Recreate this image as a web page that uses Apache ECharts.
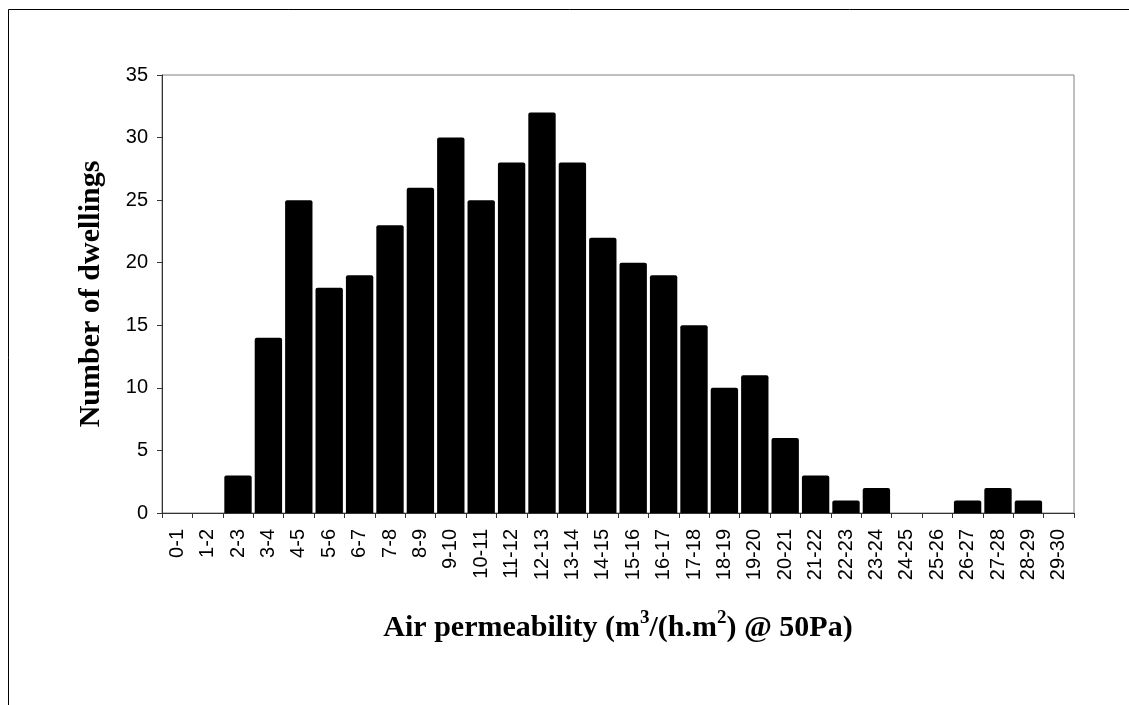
<!DOCTYPE html>
<html>
<head>
<meta charset="utf-8">
<script src="https://cdn.jsdelivr.net/npm/echarts@6/dist/echarts.min.js"></script>
<style>html,body{margin:0;padding:0;background:#fff;}#c{width:1129px;height:705px;}</style>
</head>
<body>
<div id="c"></div>
<script>
const categories = ['0-1','1-2','2-3','3-4','4-5','5-6','6-7','7-8','8-9','9-10','10-11','11-12','12-13','13-14','14-15','15-16','16-17','17-18','18-19','19-20','20-21','21-22','22-23','23-24','24-25','25-26','26-27','27-28','28-29','29-30'];
const dwellings = [0,0,3,14,25,18,19,23,26,30,25,28,32,28,22,20,19,15,10,11,6,3,1,2,0,0,1,2,1,0];
const yTicks = [0,5,10,15,20,25,30,35];

const chart = echarts.init(document.getElementById('c'), null, {renderer:'canvas'});
chart.setOption({
  animation:false,
  backgroundColor:'#fff',
  graphic:[{type:'rect', shape:{x:8.5,y:9.5,width:1300,height:900}, style:{fill:'none',stroke:'#000',lineWidth:1}, z:-10}],
  grid:{left:162,top:75,right:55,bottom:192,show:true,borderColor:'#808080',borderWidth:1,backgroundColor:'transparent'},
  xAxis:{
    type:'category', data:categories,
    boundaryGap:true,
    axisLine:{lineStyle:{color:'#333',width:1}},
    axisTick:{show:true,alignWithLabel:false,length:5,lineStyle:{color:'#333'}},
    axisLabel:{rotate:90,fontFamily:'Liberation Sans',fontSize:20,color:'#000',margin:16,interval:0},
    name:'{b|Air permeability (m}{s|3}{b|/(h.m}{s|2}{b|) @ 50Pa)}',
    nameLocation:'middle', nameGap:96,
    nameTextStyle:{rich:{
      b:{fontFamily:'Liberation Serif',fontWeight:'bold',fontSize:30,color:'#000',verticalAlign:'bottom',lineHeight:34},
      s:{fontFamily:'Liberation Serif',fontWeight:'bold',fontSize:19,color:'#000',verticalAlign:'top',lineHeight:34,padding:[0,0,12,0]}
    }}
  },
  yAxis:{
    type:'value', min:0, max:35, interval:5,
    axisLine:{show:true,lineStyle:{color:'#333',width:1}},
    axisTick:{show:true,length:5,lineStyle:{color:'#333'}},
    splitLine:{show:false},
    axisLabel:{fontFamily:'Liberation Sans',fontSize:20,color:'#000',margin:14,
      formatter:function(v){return yTicks.indexOf(v)>=0?String(v):'';}},
    name:'Number of dwellings',
    nameLocation:'middle', nameGap:56,
    nameTextStyle:{fontFamily:'Liberation Serif',fontWeight:'bold',fontSize:30,color:'#000'}
  },
  series:[{
    type:'bar', data:dwellings,
    barCategoryGap:'10%',
    itemStyle:{color:'#000',borderRadius:[2,2,0,0]}
  }]
});
</script>
</body>
</html>
